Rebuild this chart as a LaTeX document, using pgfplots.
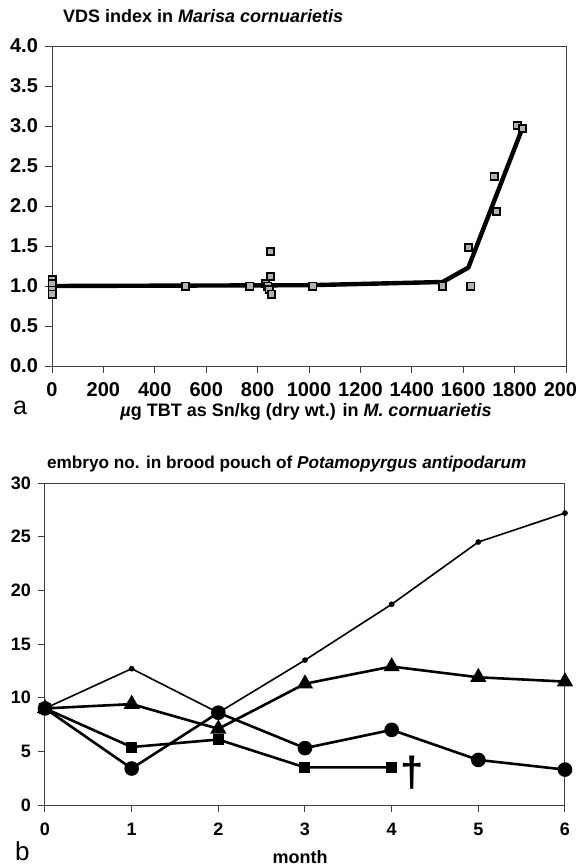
\documentclass[border=0pt]{standalone}
\usepackage{fontspec}
\setmainfont{Liberation Sans}
\usepackage{pgfplots}
\pgfplotsset{compat=1.18}
\begin{document}
\begin{tikzpicture}[x=1pt,y=1pt]
\path[use as bounding box] (0,0) rectangle (287.5,-434);
\pgfplotsset{
  every axis/.append style={
    scale only axis,
    anchor=north west,
    axis line style={line width=0.5pt, black!75},
    tick style={line width=0.5pt, black!75},
    tick align=outside,
    major tick length=3.5pt,
    /pgf/number format/assume math mode=true,
    tick label style={font=\bfseries\fontsize{10}{12}\selectfont, text=black},
    clip=false,
  }
}
% ---------- top panel ----------
\begin{axis}[
  at={(26pt,-23pt)},
  width=257pt, height=160pt,
  xmin=0, xmax=2000, ymin=0, ymax=4,
  xtick={0,200,...,2000},
  ytick={0,0.5,...,4},
  yticklabel style={/pgf/number format/.cd, fixed, fixed zerofill, precision=1},
  xticklabel style={/pgf/number format/.cd, 1000 sep={}},
  scaled ticks=false,
  xtick pos=bottom, ytick pos=left,
  xticklabel shift=1pt,
]
\addplot[line width=2.2pt, black, line join=round] coordinates {
 (0,1.0) (1000,1.01) (1520,1.05) (1620,1.23) (1830,2.97)};
\addplot[only marks, mark=square*, mark size=1.8pt,
  mark options={fill=black!30, draw=black, line width=0.9pt}] coordinates {
 (0,1.08) (0,1.03) (0,0.95) (0,0.90)
 (520,1.0) (770,1.0) (830,1.03) (840,1.0) (845,0.96) (850,1.12) (850,1.43) (855,0.90)
 (1015,1.0) (1520,1.0) (1620,1.48) (1630,1.0) (1720,2.37) (1730,1.93) (1810,3.01) (1830,2.97)};
\end{axis}
\node[anchor=west, font=\bfseries\fontsize{9}{11}\selectfont] at (28pt,-8pt) {VDS index in \textit{Marisa cornuarietis}};
\node[anchor=base west, font=\fontsize{12.5}{14}\selectfont] at (3pt,-207pt) {a};
\node[anchor=base, font=\bfseries\fontsize{9}{11}\selectfont] at (153pt,-208pt) {\textit{µ}g TBT as Sn/kg (dry wt.) in \textit{M. cornuarietis}};
% ---------- bottom panel ----------
\begin{axis}[
  at={(22.5pt,-241.5pt)},
  width=260pt, height=161pt,
  xmin=0, xmax=6, ymin=0, ymax=30,
  xtick={0,...,6}, ytick={0,5,...,30},
  xtick pos=bottom, ytick pos=left,
  tick label style={font=\bfseries\fontsize{9}{11}\selectfont},
  xticklabel shift=2pt,
]
\addplot[line width=0.8pt, black, mark=*, mark size=1.0pt] coordinates {
 (0,9) (1,12.7) (2,8.6) (3,13.5) (4,18.7) (5,24.5) (6,27.2)};
\addplot[line width=1.3pt, black, mark=triangle*, mark size=3.4pt] coordinates {
 (0,9) (1,9.4) (2,7.1) (3,11.3) (4,12.9) (5,11.9) (6,11.5)};
\addplot[line width=1.3pt, black, mark=square*, mark size=2.1pt] coordinates {
 (0,9) (1,5.4) (2,6.1) (3,3.5) (4,3.5)};
\addplot[line width=1.3pt, black, mark=*, mark size=3pt] coordinates {
 (0,9) (1,3.4) (2,8.6) (3,5.3) (4,7.0) (5,4.2) (6,3.3)};
\node[font=\bfseries\fontsize{21}{21}\selectfont] at (axis cs:4.24,3.0) {†};
\end{axis}
\node[anchor=base west, font=\bfseries\fontsize{8.6}{10}\selectfont] at (20pt,-234pt) {embryo no. in brood pouch of \textit{Potamopyrgus antipodarum}};
\node[anchor=base west, font=\fontsize{13}{14}\selectfont] at (4pt,-430pt) {b};
\node[anchor=base, font=\bfseries\fontsize{9}{11}\selectfont] at (150pt,-431.5pt) {month};
\end{tikzpicture}
\end{document}
